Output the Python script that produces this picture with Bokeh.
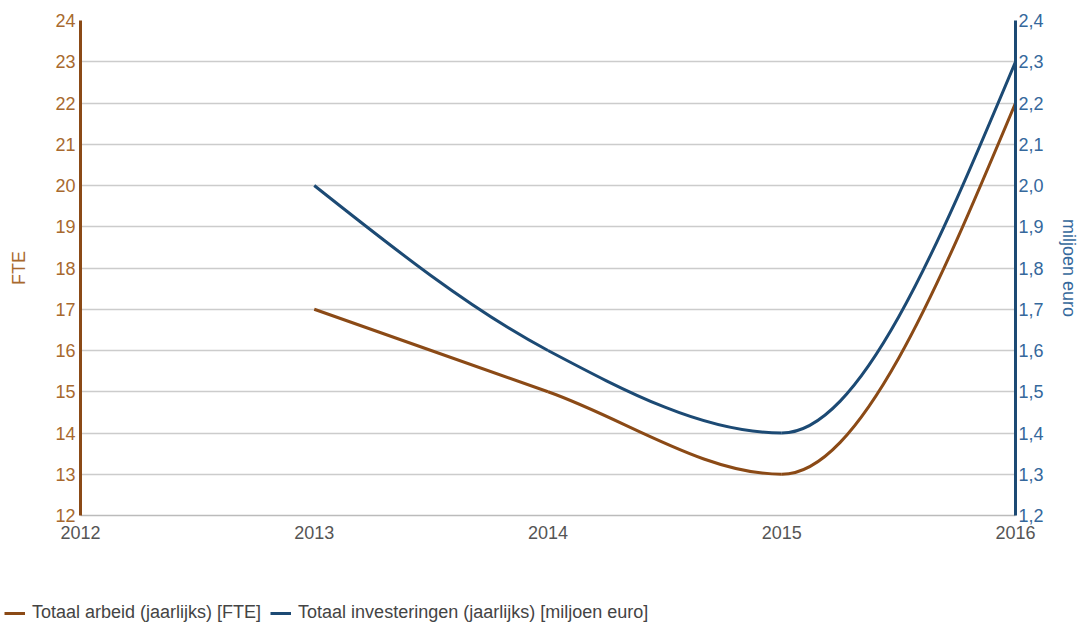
from bokeh.plotting import figure
from bokeh.layouts import column
from bokeh.models import (Range1d, LinearAxis, FixedTicker, CustomJSTickFormatter,
                          Legend, LegendItem, ColumnDataSource)
from bokeh.embed import file_html
from bokeh.resources import INLINE

years = [2013, 2014, 2015, 2016]
fte = [17, 15, 13, 22]
invest = [2.0, 1.6, 1.4, 2.3]
x_ticks = [2012, 2013, 2014, 2015, 2016]
fte_ticks = list(range(12, 25))
inv_ticks = [1.2, 1.3, 1.4, 1.5, 1.6, 1.7, 1.8, 1.9, 2.0, 2.1, 2.2, 2.3, 2.4]
labels = ["Totaal arbeid (jaarlijks) [FTE]", "Totaal investeringen (jaarlijks) [miljoen euro]"]

BROWN = "#8b4a16"
BROWN_TXT = "#a8692e"
BLUE = "#1c4a74"
BLUE_TXT = "#35689c"
FONT = "Liberation Sans"
FS = "18px"


def monotone_segments(xs, ys):
    """Cubic bezier control points of a monotone-x curve through the data."""
    n = len(xs)
    h = [xs[i + 1] - xs[i] for i in range(n - 1)]
    s = [(ys[i + 1] - ys[i]) / h[i] for i in range(n - 1)]
    t = [0.0] * n

    def sign(v):
        return (v > 0) - (v < 0)

    for i in range(1, n - 1):
        p = (s[i - 1] * h[i] + s[i] * h[i - 1]) / (h[i - 1] + h[i])
        t[i] = (sign(s[i - 1]) + sign(s[i])) * min(abs(s[i - 1]), abs(s[i]), 0.5 * abs(p))
    t[0] = (3 * s[0] - t[1]) / 2
    t[-1] = (3 * s[-1] - t[-2]) / 2
    d = dict(x0=[], y0=[], x1=[], y1=[], cx0=[], cy0=[], cx1=[], cy1=[])
    for i in range(n - 1):
        dx = h[i] / 3
        d["x0"].append(xs[i]); d["y0"].append(ys[i])
        d["x1"].append(xs[i + 1]); d["y1"].append(ys[i + 1])
        d["cx0"].append(xs[i] + dx); d["cy0"].append(ys[i] + dx * t[i])
        d["cx1"].append(xs[i + 1] - dx); d["cy1"].append(ys[i + 1] - dx * t[i + 1])
    return ColumnDataSource(d)


src_fte = monotone_segments(years, fte)
src_inv = monotone_segments(years, invest)
BZ = dict(x0="x0", y0="y0", x1="x1", y1="y1", cx0="cx0", cy0="cy0", cx1="cx1", cy1="cy1")

p = figure(width=1081, height=560, output_backend="svg", toolbar_location=None,
           x_range=Range1d(2012, 2016), y_range=Range1d(12, 24),
           min_border_left=80, min_border_right=64, min_border_top=20, min_border_bottom=45,
           outline_line_color=None, background_fill_color="white", border_fill_color="white")
p.extra_y_ranges = {"inv": Range1d(1.2, 2.4)}

# grid
p.xgrid.grid_line_color = None
p.ygrid.grid_line_color = "#cccccc"
p.ygrid.grid_line_width = 1.5
p.ygrid.ticker = FixedTicker(ticks=fte_ticks)

# x axis
xa = p.xaxis[0]
xa.ticker = FixedTicker(ticks=x_ticks)
xa.axis_line_color = "#bbbbbb"
xa.axis_line_width = 1.5
xa.major_tick_line_color = None
xa.minor_tick_line_color = None
xa.major_tick_out = 0
xa.major_tick_in = 0
xa.major_label_standoff = 10
xa.major_label_text_font = FONT
xa.major_label_text_font_size = FS
xa.major_label_text_color = "#555555"

# left axis
ya = p.yaxis[0]
ya.ticker = FixedTicker(ticks=fte_ticks)
ya.axis_line_color = BROWN
ya.axis_line_width = 3
ya.major_tick_line_color = None
ya.minor_tick_line_color = None
ya.major_tick_out = 0
ya.major_tick_in = 0
ya.major_label_standoff = 5
ya.major_label_text_font = FONT
ya.major_label_text_font_size = FS
ya.major_label_text_color = BROWN_TXT
ya.axis_label = "FTE"
ya.axis_label_text_font = FONT
ya.axis_label_text_font_size = FS
ya.axis_label_text_font_style = "normal"
ya.axis_label_text_color = BROWN_TXT
ya.axis_label_standoff = 23

# right axis
ra = LinearAxis(y_range_name="inv", ticker=FixedTicker(ticks=inv_ticks),
                formatter=CustomJSTickFormatter(code="return tick.toFixed(1).replace('.', ',');"))
ra.axis_line_color = BLUE
ra.axis_line_width = 3
ra.major_tick_line_color = None
ra.minor_tick_line_color = None
ra.major_tick_out = 0
ra.major_tick_in = 0
ra.major_label_standoff = 3
ra.major_label_text_font = FONT
ra.major_label_text_font_size = FS
ra.major_label_text_color = BLUE_TXT
ra.axis_label = "miljoen euro"
ra.axis_label_text_font = FONT
ra.axis_label_text_font_size = FS
ra.axis_label_text_font_style = "normal"
ra.axis_label_text_color = BLUE_TXT
ra.axis_label_standoff = 12
p.add_layout(ra, "right")

# series
p.bezier(source=src_fte, line_color=BROWN, line_width=3, **BZ)
p.bezier(source=src_inv, line_color=BLUE, line_width=3, y_range_name="inv", **BZ)

# legend strip (its own figure so the legend is not clipped by the plot frame)
lg = figure(width=1081, height=65, output_backend="svg", toolbar_location=None,
            x_range=Range1d(2012, 2016), y_range=Range1d(100, 101),
            x_axis_location=None, y_axis_location=None,
            min_border_left=0, min_border_right=0, min_border_top=0, min_border_bottom=0,
            outline_line_color=None, background_fill_color="white", border_fill_color="white")
lg.xgrid.grid_line_color = None
lg.ygrid.grid_line_color = None
for fig in (p, lg):
    if "frame_align" in fig.properties():
        fig.frame_align = False
l_fte = lg.bezier(source=src_fte, line_color=BROWN, line_width=3, **BZ)
l_inv = lg.bezier(source=src_inv, line_color=BLUE, line_width=3, **BZ)

legend = Legend(items=[LegendItem(label=labels[0], renderers=[l_fte]),
                       LegendItem(label=labels[1], renderers=[l_inv])],
                orientation="horizontal", location=(4, 2), padding=0, margin=0,
                spacing=9, glyph_width=21, label_standoff=7,
                label_text_font=FONT, label_text_font_size=FS, label_text_color="#444444",
                background_fill_alpha=0, border_line_color=None)
lg.add_layout(legend, "center")

open("out.html", "w").write(file_html(column(p, lg, spacing=0), INLINE))
